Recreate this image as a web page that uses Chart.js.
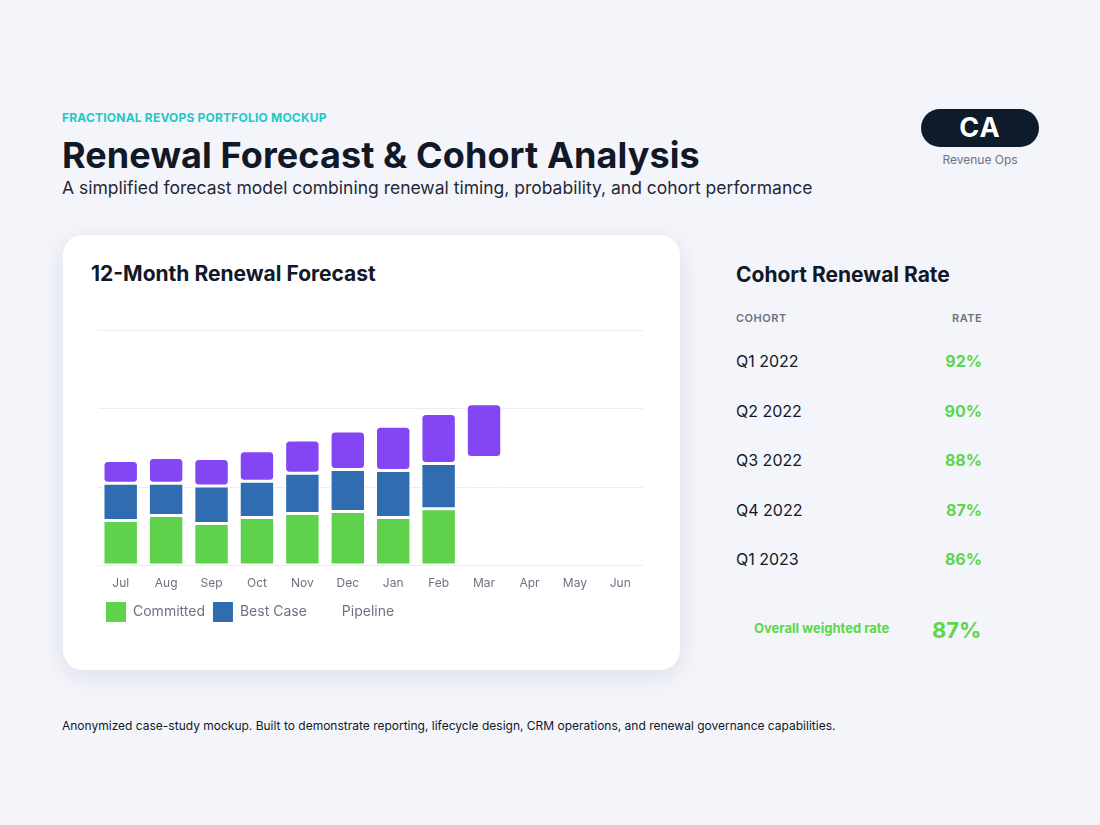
<!DOCTYPE html>
<html>
<head>
<meta charset="utf-8">
<script src="https://cdn.jsdelivr.net/npm/chart.js@4"></script>
<style>
  body { margin: 0; width: 1100px; height: 825px; background: #f4f5fb; font-family: Inter, sans-serif; color: #111827; position: relative; overflow: hidden; }
  .kicker { position: absolute; left: 62px; top: 110px; font-size: 12px; font-weight: 700; color: #22c7c7; letter-spacing: 0.2px; }
  h1 { position: absolute; left: 62px; top: 133px; margin: 0; font-size: 36px; font-weight: 700; letter-spacing: 0.1px; }
  .sub { position: absolute; left: 62px; top: 177px; font-size: 17.5px; color: #1f2937; }
  .badge { position: absolute; left: 921px; top: 109px; width: 118px; height: 38px; border-radius: 19px; background: #0d1b2a; color: #fff; font-size: 27px; font-weight: 700; text-align: center; line-height: 38px; letter-spacing: 1px; }
  .badge-sub { position: absolute; left: 921px; top: 152px; width: 118px; text-align: center; font-size: 12px; color: #6b7280; }
  .card { position: absolute; left: 63px; top: 235px; width: 617px; height: 435px; background: #fff; border-radius: 20px; box-shadow: 0 6px 24px rgba(20,30,60,0.10); }
  .card h2 { position: absolute; left: 28px; top: 26px; margin: 0; font-size: 21px; font-weight: 700; }
  .chart { position: absolute; left: 35px; top: 95px; width: 545px; height: 302px; }
  .right h2 { position: absolute; left: 736px; top: 262px; margin: 0; font-size: 21px; font-weight: 700; }
  .th { position: absolute; top: 311px; font-size: 11px; font-weight: 600; color: #6b7280; letter-spacing: 0.5px; }
  .row { position: absolute; left: 736px; width: 246px; font-size: 16px; }
  .row span { position: absolute; right: 0; color: #5cd64a; font-weight: 700; }
  .overall { position: absolute; left: 754px; top: 620px; font-size: 13px; font-weight: 700; color: #5cd64a; }
  .overall-v { position: absolute; left: 932px; top: 617px; font-size: 22px; font-weight: 700; color: #5cd64a; }
  .foot { position: absolute; left: 62px; top: 718px; font-size: 12px; color: #111827; }
</style>
</head>
<body>
<div class="kicker">FRACTIONAL REVOPS PORTFOLIO MOCKUP</div>
<h1>Renewal Forecast &amp; Cohort Analysis</h1>
<div class="sub">A simplified forecast model combining renewal timing, probability, and cohort performance</div>
<div class="badge">CA</div>
<div class="badge-sub">Revenue Ops</div>

<div class="card">
  <h2>12-Month Renewal Forecast</h2>
  <div class="chart"><canvas id="c"></canvas></div>
</div>

<div class="right">
  <h2>Cohort Renewal Rate</h2>
  <div class="th" style="left:736px">COHORT</div>
  <div class="th" style="left:952px">RATE</div>
  <div id="rows"></div>
  <div class="overall">Overall weighted rate</div>
  <div class="overall-v">87%</div>
</div>

<div class="foot">Anonymized case-study mockup. Built to demonstrate reporting, lifecycle design, CRM operations, and renewal governance capabilities.</div>

<script>
const MONTHS = ['Jul', 'Aug', 'Sep', 'Oct', 'Nov', 'Dec', 'Jan', 'Feb', 'Mar', 'Apr', 'May', 'Jun'];
const COMMITTED = [11.5, 12.75, 10.75, 12.25, 13.25, 13.75, 12.25, 14.5, 0, 0, 0, 0];
const BEST_CASE = [9.5, 8.25, 9.5, 9.25, 10.25, 10.75, 12, 11.5, 0, 0, 0, 0];
const GAP = [0, 0, 0, 0, 0, 0, 0, 0, 27.5, 0, 0, 0];
const PIPELINE = [5.75, 6.5, 7, 7.75, 8.5, 9.75, 11.25, 12.75, 13.75, 0, 0, 0];

const COHORTS = ['Q1 2022', 'Q2 2022', 'Q3 2022', 'Q4 2022', 'Q1 2023'];
const RATES = ['92%', '90%', '88%', '87%', '86%'];

let rows = document.getElementById('rows');
COHORTS.forEach((c, i) => {
    let d = document.createElement('div');
    d.className = 'row';
    d.style.top = (351 + i * 49.5) + 'px';
    d.innerHTML = c + '<span>' + RATES[i] + '</span>';
    rows.appendChild(d);
});

const bar = (label, data, color) => ({
    label: label,
    data: data,
    backgroundColor: color,
    borderColor: '#ffffff',
    borderWidth: 1.5,
    borderRadius: 5,
    borderSkipped: false,
    barPercentage: 0.78,
    categoryPercentage: 1
});

new Chart(document.getElementById('c'), {
    type: 'bar',
    data: {
        labels: MONTHS,
        datasets: [
            bar('Committed', COMMITTED, '#5fd24b'),
            bar('Best Case', BEST_CASE, '#2f6db0'),
            bar('gap', GAP, 'rgba(0,0,0,0)'),
            bar('Pipeline', PIPELINE, '#8446f5')
        ]
    },
    options: {
        responsive: true,
        maintainAspectRatio: false,
        animation: false,
        scales: {
            x: {
                stacked: true,
                grid: { display: false },
                border: { display: false },
                ticks: { color: '#6b7280', font: { family: 'Inter', size: 12 } }
            },
            y: {
                stacked: true,
                min: 0,
                max: 60,
                ticks: { stepSize: 20, display: false },
                grid: { color: '#ececf2', drawTicks: false },
                border: { display: false }
            }
        },
        plugins: {
            tooltip: false,
            legend: {
                position: 'bottom',
                align: 'start',
                labels: {
                    color: '#6b7280',
                    font: { family: 'Inter', size: 14 },
                    boxWidth: 20,
                    boxHeight: 20,
                    padding: 8,
                    filter: item => item.text != 'gap',
                    generateLabels: chart => {
                        let items = Chart.defaults.plugins.legend.labels.generateLabels(chart);
                        items.forEach(it => {
                            it.lineWidth = 0;
                            if (it.text == 'Pipeline') it.fillStyle = 'rgba(0,0,0,0)';
                        });
                        return items;
                    }
                }
            }
        }
    }
});
</script>
</body>
</html>
